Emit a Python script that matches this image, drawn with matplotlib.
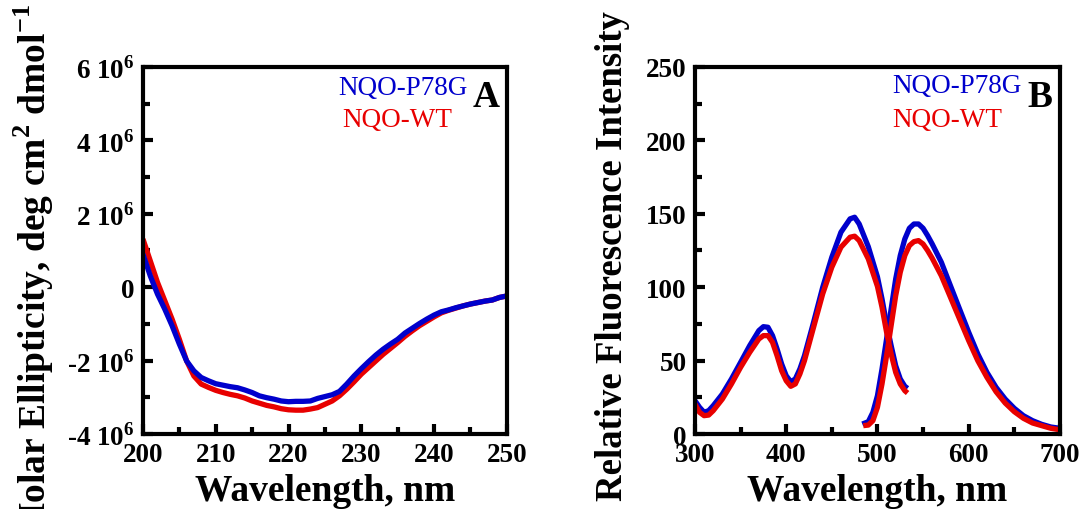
import numpy as np
import matplotlib
matplotlib.use('Agg')
import matplotlib.pyplot as plt
from matplotlib.ticker import MultipleLocator, FixedLocator

plt.rcParams['font.family'] = 'Liberation Serif'
plt.rcParams['font.weight'] = 'bold'
plt.rcParams['mathtext.fontset'] = 'custom'
plt.rcParams['mathtext.rm'] = 'Liberation Serif'
plt.rcParams['mathtext.bf'] = 'Liberation Serif:bold'

blue = '#0000cc'
red = '#e80000'

# --- panel A: CD spectra (deg cm2 dmol-1, in units of 1e6) ---
cd_wl = list(range(200, 251))
cd_p78g = [0.90, 0.31, -0.19, -0.60, -1.05, -1.55, -2.01, -2.28, -2.46, -2.55,
           -2.63, -2.67, -2.71, -2.74, -2.80, -2.87, -2.96, -3.01, -3.05, -3.10,
           -3.12, -3.11, -3.11, -3.10, -3.03, -2.98, -2.93, -2.84, -2.64, -2.42,
           -2.22, -2.03, -1.85, -1.69, -1.55, -1.42, -1.25, -1.12, -0.99, -0.87,
           -0.76, -0.67, -0.62, -0.56, -0.51, -0.46, -0.42, -0.38, -0.35, -0.28, -0.24]
cd_wt = [1.31, 0.72, 0.13, -0.37, -0.87, -1.42, -2.01, -2.42, -2.64, -2.73,
         -2.81, -2.87, -2.92, -2.96, -3.02, -3.10, -3.16, -3.22, -3.26, -3.31,
         -3.34, -3.35, -3.35, -3.32, -3.28, -3.19, -3.10, -2.96, -2.78, -2.58,
         -2.37, -2.19, -2.01, -1.83, -1.67, -1.51, -1.34, -1.19, -1.05, -0.93,
         -0.81, -0.70, -0.63, -0.57, -0.51, -0.46, -0.42, -0.38, -0.35, -0.28, -0.24]

# --- panel B: fluorescence excitation and emission ---
ex_wl = [300, 305, 310, 315, 320, 330, 340, 350, 360, 370, 375, 380, 385, 390,
         395, 400, 405, 410, 415, 420, 430, 440, 450, 460, 470, 475, 480, 490,
         500, 505, 510, 515, 520, 525, 530, 533]
ex_p78g = [22.7, 18.2, 14.8, 15.9, 19.3, 27.2, 37.5, 48.8, 60.2, 70.4, 73.1, 72.7,
           67.0, 57.9, 47.7, 39.7, 35.6, 37.5, 44.3, 53.3, 76.1, 99.9, 120.4,
           137.4, 146.5, 147.6, 143.0, 127.5, 107.0, 92.0, 74.9, 60.2, 46.5, 37.5,
           32.5, 31.1]
ex_wt = [20.4, 14.8, 12.5, 12.9, 15.9, 23.8, 34.1, 45.4, 55.6, 64.7, 67.0, 67.0,
         62.4, 53.3, 43.1, 36.3, 32.5, 34.1, 40.9, 49.9, 72.7, 95.4, 113.6,
         127.2, 134.0, 134.7, 131.7, 119.2, 100.5, 86.3, 69.3, 54.5, 42.0, 34.1,
         29.5, 27.9]

em_wl_p78g = [483.4, 490, 495, 500, 505, 510, 515, 520, 525, 530, 535, 540, 545,
              550, 555, 560, 570, 580, 590, 600, 610, 620, 630, 640, 650, 660,
              670, 680, 690, 700]
em_p78g = [6.8, 8.4, 14.8, 26.1, 44.3, 64.7, 85.1, 105.6, 121.5, 132.8, 140.1,
           143.0, 143.0, 140.1, 135.1, 129.4, 117.0, 101.0, 85.1, 69.3, 54.5,
           42.0, 31.8, 23.8, 17.5, 12.5, 9.1, 6.6, 4.8, 3.9]
em_wl_wt = [484.5, 490, 495, 500, 505, 510, 515, 520, 525, 530, 535, 540, 545,
            550, 555, 560, 570, 580, 590, 600, 610, 620, 630, 640, 650, 660,
            670, 680, 690, 700]
em_wt = [5.7, 6.1, 9.1, 18.2, 34.1, 53.3, 73.8, 94.2, 110.1, 121.5, 128.3,
         131.0, 131.7, 129.4, 124.9, 119.7, 107.8, 93.1, 78.3, 63.6, 49.9,
         38.6, 28.8, 21.1, 15.2, 10.7, 7.5, 5.7, 3.9, 2.9]

fig = plt.figure(figsize=(10.83, 5.10), dpi=100)
axA = fig.add_axes([0.132, 0.147, 0.336, 0.72])
axB = fig.add_axes([0.6417, 0.147, 0.337, 0.72])

lw = 3.8
axA.plot(cd_wl, cd_wt, color=red, lw=lw, solid_capstyle='butt')
axA.plot(cd_wl, cd_p78g, color=blue, lw=lw, solid_capstyle='butt')
axB.plot(ex_wl, ex_p78g, color=blue, lw=lw, solid_capstyle='butt')
axB.plot(em_wl_p78g, em_p78g, color=blue, lw=lw, solid_capstyle='butt')
axB.plot(ex_wl, ex_wt, color=red, lw=lw, solid_capstyle='butt')
axB.plot(em_wl_wt, em_wt, color=red, lw=lw, solid_capstyle='butt')

axA.set_xlim(200, 250)
axA.set_ylim(-4, 6)
axA.xaxis.set_major_locator(MultipleLocator(10))
axA.xaxis.set_minor_locator(MultipleLocator(5))
axA.yaxis.set_major_locator(FixedLocator([-4, -2, 0, 2, 4, 6]))
axA.yaxis.set_minor_locator(MultipleLocator(1))
axA.set_yticklabels([r'-4 10$^{\mathbf{6}}$', r'-2 10$^{\mathbf{6}}$', '0',
                     r'2 10$^{\mathbf{6}}$', r'4 10$^{\mathbf{6}}$', r'6 10$^{\mathbf{6}}$'])

axB.set_xlim(300, 700)
axB.set_ylim(0, 250)
axB.xaxis.set_major_locator(MultipleLocator(100))
axB.xaxis.set_minor_locator(MultipleLocator(50))
axB.yaxis.set_major_locator(MultipleLocator(50))
axB.yaxis.set_minor_locator(MultipleLocator(25))

for ax in (axA, axB):
    for s in ax.spines.values():
        s.set_linewidth(3)
    ax.tick_params(which='major', direction='in', length=7, width=3,
                   labelsize=19.5, pad=6)
    ax.tick_params(which='minor', direction='in', length=5, width=3)
    ax.set_xlabel('Wavelength, nm', fontsize=27, fontweight='bold', labelpad=4)

fig.text(0.031, 0.993, r'Molar Ellipticity, deg cm$^{\mathbf{2}}$ dmol$^{\mathbf{-1}}$',
         rotation=90, ha='center', va='top', fontsize=27, fontweight='bold')
fig.text(0.566, 0.497, 'Relative Fluorescence Intensity',
         rotation=90, ha='center', va='center', fontsize=26.5, fontweight='bold')

leg = dict(fontsize=19.5, fontweight='normal', va='baseline')
axA.text(0.536, 0.926, 'NQO-P78G', color=blue, transform=axA.transAxes, **leg)
axA.text(0.549, 0.839, 'NQO-WT', color=red, transform=axA.transAxes, **leg)
axA.text(0.907, 0.894, 'A', fontsize=27, fontweight='bold', va='baseline',
         transform=axA.transAxes)
axB.text(0.54, 0.932, 'NQO-P78G', color=blue, transform=axB.transAxes, **leg)
axB.text(0.54, 0.839, 'NQO-WT', color=red, transform=axB.transAxes, **leg)
axB.text(0.912, 0.894, 'B', fontsize=27, fontweight='bold', va='baseline',
         transform=axB.transAxes)

fig.savefig('out.png', dpi=100)
